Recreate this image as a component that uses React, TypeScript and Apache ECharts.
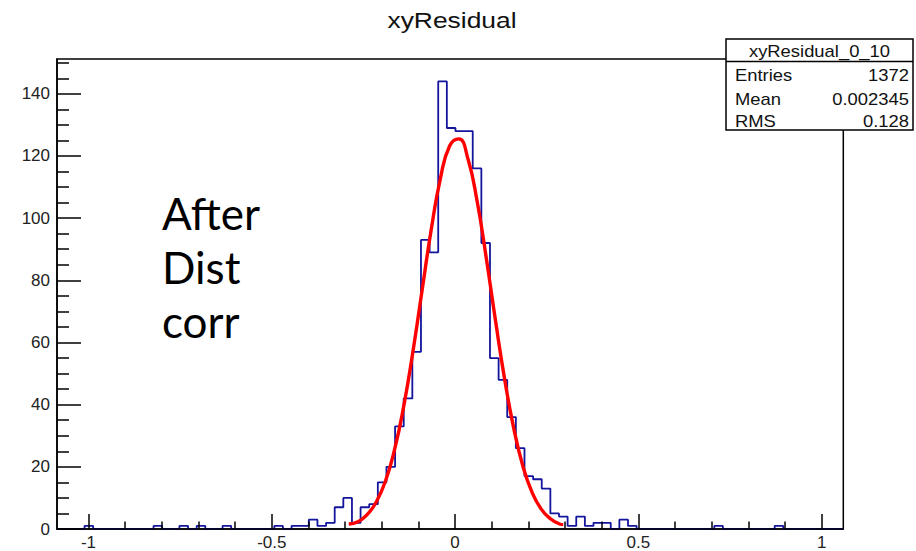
import React, { useEffect, useRef } from "react";
import * as echarts from "echarts";

// Histogram binning
const binStart = -1.0815;
const binWidth = 0.023533;
const counts = [
  0, 0, 0, 1, 0, 0, 0, 0, 0, 0, 0, 1, 0, 0, 1, 0, 1, 0, 0, 1,
  0, 0, 0, 0, 0, 1, 0, 1, 1, 3, 1, 2, 7, 10, 2, 7, 8, 15, 20, 33,
  42, 57, 93, 89, 144, 129, 128, 128, 116, 92, 55, 48, 36, 26, 17, 16, 13, 5, 4, 1,
  4, 1, 2, 2, 0, 3, 1, 0, 0, 0, 0, 0, 0, 0, 0, 0, 1, 0, 0, 0,
  0, 0, 0, 1, 0, 0, 0, 0, 0, 0, 0,
];

// Fit curve
const fitX = [
  -0.29, -0.265, -0.24, -0.215, -0.19, -0.165, -0.14, -0.115, -0.09, -0.065, -0.04, -0.015,
  0.01, 0.035, 0.06, 0.085, 0.11, 0.135, 0.16, 0.185, 0.21, 0.235, 0.26, 0.285, 0.295,
];
const fitY = [
  1.6, 2.3, 4.6, 8.7, 15.4, 25.6, 39.6, 57.1, 76.8, 96.4, 112.8, 123.2,
  125.5, 119.1, 105.5, 87.2, 67.2, 48.3, 32.4, 20.2, 11.8, 6.4, 3.3, 1.6, 1.4,
];

const xMajor = [-1, -0.5, 0, 0.5, 1];
const xMinor = [-0.9, -0.8, -0.7, -0.6, -0.4, -0.3, -0.2, -0.1, 0.1, 0.2, 0.3, 0.4, 0.6, 0.7, 0.8, 0.9];
const yMajor = [0, 20, 40, 60, 80, 100, 120, 140];
const yMinor = [5, 10, 15, 25, 30, 35, 45, 50, 55, 65, 70, 75, 85, 90, 95, 105, 110, 115, 125, 130, 135, 145, 150];

const titleText = "xyResidual";
const statsTitle = "xyResidual_0_10";
const statsLabels = ["Entries", "Mean", "RMS"];
const statsValues = ["1372", "0.002345", "0.128"];
const noteLines = ["After", "Dist", "corr"];

const X_MIN = -1.086;
const X_MAX = 1.059;
const Y_MAX = 151.2;

const rootFont = "'Liberation Sans', Arial, Helvetica, sans-serif";

export default function App() {
  const ref = useRef<HTMLDivElement>(null);

  useEffect(() => {
    const chart = echarts.init(ref.current!, null, { renderer: "svg" });

    const histPts: number[][] = [];
    counts.forEach((c, i) => {
      const l = binStart + i * binWidth;
      histPts.push([l, c]);
      histPts.push([l + binWidth, c]);
    });
    const fitPts = fitX.map((x, i) => [x, fitY[i]]);

    const tickStyle = { color: "#000", width: 1.5 };

    const graphics: any[] = [
      {
        type: "text",
        x: 452,
        y: 20,
        scaleX: 1.2,
        style: {
          text: titleText,
          fontSize: 22,
          fontFamily: rootFont,
          fill: "#111",
          textAlign: "center",
          textVerticalAlign: "middle",
        },
      },
      {
        type: "rect",
        z: 20,
        shape: { x: 726, y: 39, width: 187, height: 91 },
        style: { fill: "#fff", stroke: "#000", lineWidth: 1.5 },
      },
      {
        type: "line",
        z: 21,
        shape: { x1: 726, y1: 61.5, x2: 913, y2: 61.5 },
        style: { stroke: "#000", lineWidth: 1.5 },
      },
      {
        type: "text",
        z: 22,
        x: 819.5,
        y: 51,
        scaleX: 1.15,
        style: {
          text: statsTitle,
          fontSize: 16,
          fontFamily: rootFont,
          fill: "#111",
          textAlign: "center",
          textVerticalAlign: "middle",
        },
      },
    ];
    statsLabels.forEach((lab, i) => {
      const y = [75, 99.5, 121.5][i];
      graphics.push({
        type: "text",
        z: 22,
        x: 735,
        y,
        scaleX: 1.15,
        style: { text: lab, fontSize: 16, fontFamily: rootFont, fill: "#111", textAlign: "left", textVerticalAlign: "middle" },
      });
      graphics.push({
        type: "text",
        z: 22,
        x: 909,
        y,
        scaleX: 1.15,
        style: { text: statsValues[i], fontSize: 16, fontFamily: rootFont, fill: "#111", textAlign: "right", textVerticalAlign: "middle" },
      });
    });
    noteLines.forEach((t, i) => {
      graphics.push({
        type: "text",
        z: 22,
        x: 162,
        y: 213 + i * 54,
        style: {
          text: t,
          fontSize: 44,
          fontFamily: "Lato, 'Open Sans', sans-serif",
          fill: "#000",
          textAlign: "left",
          textVerticalAlign: "middle",
        },
      });
    });

    const option: any = {
      animation: false,
      backgroundColor: "#fff",
      grid: {
        left: 57,
        top: 59,
        width: 786.3,
        height: 471,
        show: true,
        borderColor: "#000",
        borderWidth: 1.5,
        backgroundColor: "transparent",
      },
      xAxis: [
        {
          type: "value",
          min: X_MIN,
          max: X_MAX,
          z: 5,
          axisLine: { show: true, onZero: false, lineStyle: tickStyle },
          axisTick: { show: true, inside: true, length: 15, customValues: xMajor, lineStyle: tickStyle },
          axisLabel: {
            show: true,
            customValues: xMajor,
            formatter: (v: number) => String(v),
            fontSize: 17,
            fontFamily: rootFont,
            color: "#222",
            margin: 5,
          },
          splitLine: { show: false },
        },
        {
          type: "value",
          min: X_MIN,
          max: X_MAX,
          position: "bottom",
          z: 5,
          axisLine: { show: false, onZero: false },
          axisTick: { show: true, inside: true, length: 7.5, customValues: xMinor, lineStyle: tickStyle },
          axisLabel: { show: false },
          splitLine: { show: false },
        },
      ],
      yAxis: [
        {
          type: "value",
          min: 0,
          max: Y_MAX,
          z: 5,
          axisLine: { show: true, onZero: false, lineStyle: tickStyle },
          axisTick: { show: true, inside: true, length: 24, customValues: yMajor, lineStyle: tickStyle },
          axisLabel: {
            show: true,
            customValues: yMajor,
            fontSize: 17,
            fontFamily: rootFont,
            color: "#222",
            margin: 7,
          },
          splitLine: { show: false },
        },
        {
          type: "value",
          min: 0,
          max: Y_MAX,
          position: "left",
          z: 5,
          axisLine: { show: false, onZero: false },
          axisTick: { show: true, inside: true, length: 12, customValues: yMinor, lineStyle: tickStyle },
          axisLabel: { show: false },
          splitLine: { show: false },
        },
      ],
      series: [
        {
          type: "line",
          name: "hist",
          xAxisIndex: 0,
          yAxisIndex: 0,
          data: histPts,
          showSymbol: false,
          symbol: "none",
          z: 2,
          lineStyle: { color: "#14149c", width: 1.8 },
        },
        {
          type: "line",
          name: "fit",
          xAxisIndex: 0,
          yAxisIndex: 0,
          data: fitPts,
          smooth: true,
          showSymbol: false,
          symbol: "none",
          z: 3,
          lineStyle: { color: "#ff0000", width: 3.4 },
        },
      ],
      graphic: graphics,
    };

    chart.setOption(option);
    return () => chart.dispose();
  }, []);

  return (
    <div
      ref={ref}
      style={{ position: "absolute", left: 0, top: 0, width: 916, height: 551, background: "#fff" }}
    />
  );
}
